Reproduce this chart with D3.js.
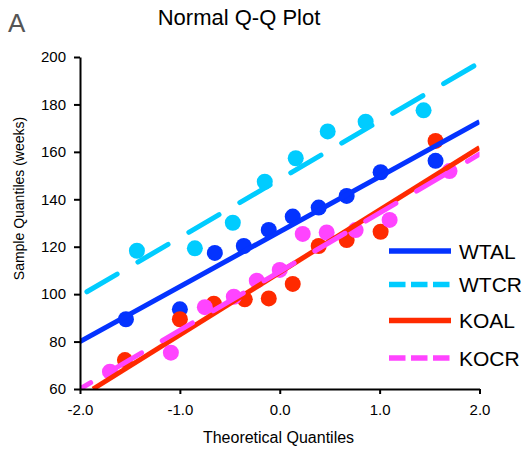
<!DOCTYPE html>
<html>
<head>
<meta charset="utf-8">
<script src="https://cdn.jsdelivr.net/npm/d3@7/dist/d3.min.js"></script>
<style>
  html, body { margin: 0; padding: 0; background: #fff; }
  svg { display: block; font-family: "Liberation Sans", Arial, Helvetica, sans-serif; }
</style>
</head>
<body>
<svg id="chart" width="525" height="452"></svg>
<script>
// ---- data ----
const seriesNames = ["WTAL", "WTCR", "KOAL", "KOCR"];
const seriesColors = ["#0433ff", "#00ccff", "#ff2a00", "#ff44ff"];
const seriesDashed = [false, true, false, true];

const wtalX = [-1.54, -1.00, -0.65, -0.36, -0.11, 0.13, 0.39, 0.67, 1.01, 1.56];
const wtalY = [89.4, 93.6, 117.4, 120.3, 127.1, 132.7, 136.5, 141.4, 151.4, 156.2];

const wtcrX = [-1.43, -0.85, -0.47, -0.15, 0.16, 0.48, 0.86, 1.44];
const wtcrY = [118.3, 119.3, 130.1, 147.4, 157.3, 168.6, 172.7, 177.5];

const koalX = [-1.55, -1.00, -0.66, -0.35, -0.11, 0.13, 0.39, 0.67, 1.01, 1.56];
const koalY = [72.2, 89.4, 96.0, 97.8, 98.2, 104.3, 120.3, 122.8, 126.3, 164.6];

const kocrX = [-1.70, -1.09, -0.75, -0.46, -0.23, 0.00, 0.23, 0.47, 0.76, 1.10, 1.70];
const kocrY = [67.3, 75.3, 94.5, 98.9, 105.7, 110.2, 125.4, 126.0, 127.0, 131.3, 151.9];

// fitted Q-Q lines: [x0, y0, x1, y1]
const wtalLine = [-2.0, 80.0, 2.0, 172.7];
const wtcrLine = [-2.0, 99.3, 2.0, 197.6];
const koalLine = [-1.87, 60.0, 2.0, 161.8];
const kocrLine = [-2.0, 60.0, 2.0, 159.0];

const xTicks = [-2, -1, 0, 1, 2];
const yTicks = [60, 80, 100, 120, 140, 160, 180, 200];

const seriesX = [wtalX, wtcrX, koalX, kocrX];
const seriesY = [wtalY, wtcrY, koalY, kocrY];
const seriesLines = [wtalLine, wtcrLine, koalLine, kocrLine];
const dashOffsets = [0, 51, 0, 22.6];

// ---- layout ----
const svg = d3.select("#chart");
const x = d3.scaleLinear().domain([-2, 2]).range([80, 479.5]);
const y = d3.scaleLinear().domain([60, 200]).range([389, 57]);

svg.append("defs").append("clipPath").attr("id", "plotclip")
  .append("rect")
  .attr("x", x(-2)).attr("y", y(200) - 10)
  .attr("width", x(2) - x(-2)).attr("height", y(60) - y(200) + 10);

// dots
const dotsG = svg.append("g");
seriesNames.forEach((name, i) => {
  dotsG.append("g").selectAll("circle")
    .data(d3.range(seriesX[i].length))
    .join("circle")
    .attr("cx", j => x(seriesX[i][j]))
    .attr("cy", j => y(seriesY[i][j]))
    .attr("r", 8)
    .attr("fill", seriesColors[i]);
});

// lines
const linesG = svg.append("g").attr("clip-path", "url(#plotclip)");
seriesNames.forEach((name, i) => {
  const L = seriesLines[i];
  const ln = linesG.append("line")
    .attr("x1", x(L[0])).attr("y1", y(L[1]))
    .attr("x2", x(L[2])).attr("y2", y(L[3]))
    .attr("stroke", seriesColors[i])
    .attr("stroke-width", 5);
  if (seriesDashed[i]) {
    ln.attr("stroke-dasharray", "35,24")
      .attr("stroke-dashoffset", dashOffsets[i])
      .attr("stroke-linecap", "round");
  }
});

// axes
const xAxis = d3.axisBottom(x).tickValues(xTicks).tickFormat(d => d.toFixed(1))
  .tickSize(5).tickSizeOuter(0).tickPadding(10);
const yAxis = d3.axisLeft(y).tickValues(yTicks).tickFormat(d => String(d))
  .tickSize(6).tickSizeOuter(0).tickPadding(8);

const gx = svg.append("g").attr("transform", `translate(0,${y(60)})`).call(xAxis);
const gy = svg.append("g").attr("transform", `translate(${x(-2)},0)`).call(yAxis);
[gx, gy].forEach(g => {
  g.select(".domain").attr("stroke", "#000").attr("stroke-width", 2);
  g.selectAll(".tick line").attr("stroke", "#000").attr("stroke-width", 2);
  g.selectAll(".tick text").attr("fill", "#000").attr("font-size", 15)
    .attr("font-family", "Liberation Sans, Arial, sans-serif");
});

// titles
svg.append("text").attr("x", 239).attr("y", 24.5).attr("text-anchor", "middle")
  .attr("font-size", 22).attr("fill", "#000").text("Normal Q-Q Plot");
svg.append("text").attr("x", 8).attr("y", 32).attr("font-size", 26)
  .attr("fill", "#555").text("A");
svg.append("text").attr("x", 278.5).attr("y", 443).attr("text-anchor", "middle")
  .attr("font-size", 16).attr("fill", "#000").text("Theoretical Quantiles");
svg.append("text").attr("transform", "translate(23.5,198.5) rotate(-90)")
  .attr("text-anchor", "middle").attr("font-size", 14).attr("fill", "#000")
  .text("Sample Quantiles (weeks)");

// legend
const legendY = [251, 284.5, 320.5, 358];
const leg = svg.append("g");
seriesNames.forEach((name, i) => {
  const l = leg.append("line")
    .attr("x1", 389).attr("x2", 451)
    .attr("y1", legendY[i]).attr("y2", legendY[i])
    .attr("stroke", seriesColors[i]).attr("stroke-width", 5.5);
  if (seriesDashed[i]) l.attr("stroke-dasharray", "16.5,5.5");
  leg.append("text").attr("x", 459).attr("y", legendY[i] + 7.8)
    .attr("font-size", 21).attr("fill", "#000").text(name);
});
</script>
</body>
</html>
